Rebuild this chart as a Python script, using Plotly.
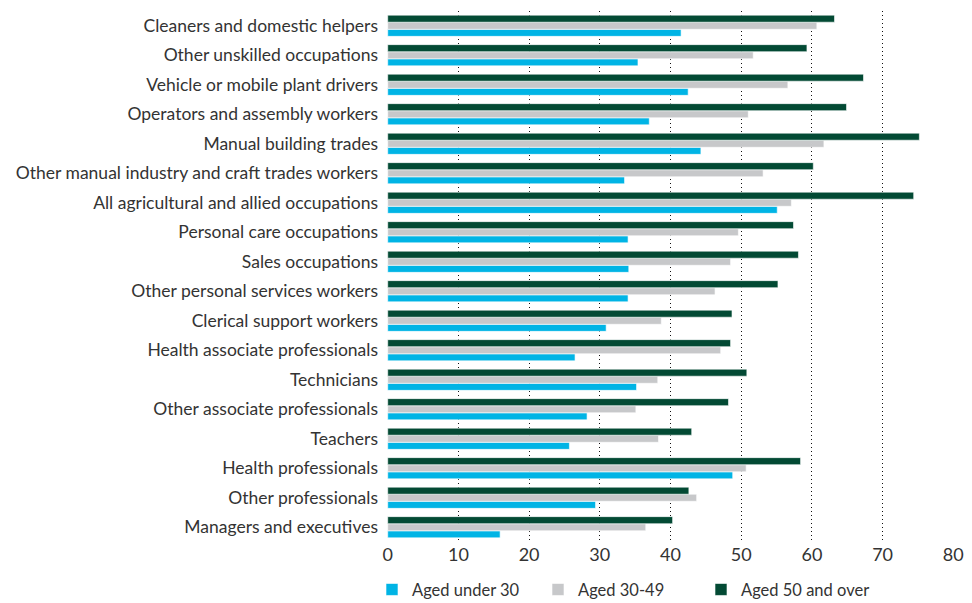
import plotly.graph_objects as go

# occupations, listed top to bottom as in the chart
occupations = [
    "Cleaners and domestic helpers",
    "Other unskilled occupations",
    "Vehicle or mobile plant drivers",
    "Operators and assembly workers",
    "Manual building trades",
    "Other manual industry and craft trades workers",
    "All agricultural and allied occupations",
    "Personal care occupations",
    "Sales occupations",
    "Other personal services workers",
    "Clerical support workers",
    "Health associate professionals",
    "Technicians",
    "Other associate professionals",
    "Teachers",
    "Health professionals",
    "Other professionals",
    "Managers and executives",
]

under_30 = [41.5, 35.4, 42.5, 37.0, 44.3, 33.5, 55.1, 34.0, 34.1, 34.0,
            30.9, 26.5, 35.2, 28.2, 25.7, 48.8, 29.4, 15.9]
aged_30_49 = [60.7, 51.7, 56.6, 51.0, 61.7, 53.1, 57.1, 49.6, 48.5, 46.3,
              38.7, 47.1, 38.2, 35.1, 38.3, 50.7, 43.7, 36.5]
aged_50_plus = [63.2, 59.3, 67.3, 64.9, 75.2, 60.2, 74.4, 57.4, 58.1, 55.2,
                48.7, 48.5, 50.8, 48.2, 43.0, 58.4, 42.6, 40.3]

x_ticks = [0, 10, 20, 30, 40, 50, 60, 70, 80]

series = [
    ("Aged under 30", under_30, "#00b4e5", "legend"),
    ("Aged 30-49", aged_30_49, "#c7c8ca", "legend2"),
    ("Aged 50 and over", aged_50_plus, "#034a34", "legend3"),
]

fig = go.Figure()
for name, vals, color, leg in series:
    fig.add_trace(go.Bar(
        y=occupations,
        x=vals,
        name=name,
        orientation="h",
        legend=leg,
        marker=dict(color=color, line=dict(color="white", width=0.6)),
    ))

# one legend per series so each entry sits where the reference puts it
def legend_at(px):
    return dict(
        orientation="h",
        xref="container",
        yref="container",
        x=px / 972,
        xanchor="left",
        y=0.022,
        yanchor="middle",
        font=dict(size=16.5),
        bgcolor="rgba(0,0,0,0)",
    )

fig.update_layout(
    width=972,
    height=603,
    margin=dict(l=387, r=18, t=11, b=61, autoexpand=False),
    barmode="group",
    bargap=0.28,
    bargroupgap=0,
    plot_bgcolor="white",
    paper_bgcolor="white",
    font=dict(family="Lato", size=17.5, color="#333333"),
    showlegend=True,
    legend=legend_at(372),
    legend2=legend_at(538),
    legend3=legend_at(701),
)

fig.update_xaxes(
    range=[-0.1, 80.1],
    tickvals=x_ticks,
    ticktext=[str(t) for t in x_ticks],
    tickfont=dict(size=18),
    showgrid=True,
    gridcolor="#111111",
    griddash="1px,3px",
    gridwidth=1,
    zeroline=False,
    showline=False,
    ticks="",
    automargin=False,
)

fig.update_yaxes(
    categoryorder="array",
    categoryarray=occupations[::-1],
    showgrid=False,
    ticks="",
    ticklabelstandoff=8,
    automargin=False,
)

# drop the browser's default 8px body margin so the figure fills the window
fig.write_html(
    "out.html",
    config={"displayModeBar": False},
    post_script="document.body.style.margin='0';",
)
